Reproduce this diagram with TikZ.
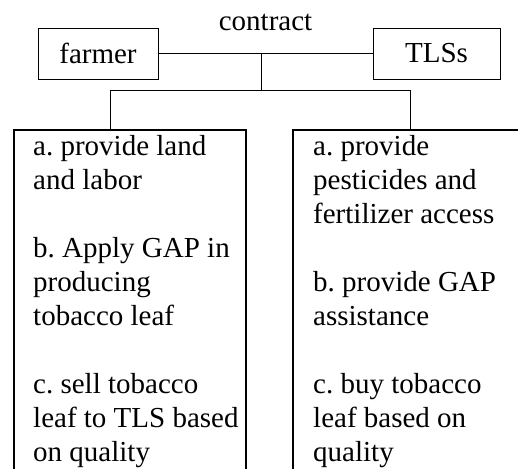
\documentclass[tikz,border=0pt]{standalone}
\usepackage{fontspec}
\setmainfont{Liberation Serif}
\usetikzlibrary{positioning}
\frenchspacing

\begin{document}
\begin{tikzpicture}[x=1pt, y=-1pt,
  party/.style={draw, line width=0.9pt, minimum height=51pt, inner sep=0pt,
    font=\fontsize{29}{34}\selectfont},
  duty/.style={draw, line width=2.4pt, anchor=north west, minimum height=360pt},
  dutytext/.style={align=left, inner sep=0pt, font=\fontsize{29}{34}\selectfont},
  link/.style={line width=0.9pt}
]
\useasboundingbox (0,0) rectangle (518,468);
\clip (0,0) rectangle (518,468);
\node[party, minimum width=120pt] (farmer) at (98,53.5) {farmer};
\node[party, minimum width=127pt] (tls) at (436.5,53.5) {TLSs};
\draw[link] (farmer) -- node[above=22pt, inner sep=0pt, font=\fontsize{29}{34}\selectfont] (contract) {contract} (tls);
\coordinate (mid) at (261,53.5);
\coordinate (fork) at (261,90);
\coordinate (lfork) at (110,90);
\coordinate (rfork) at (410,90);
\node[duty, minimum width=232pt] (lbox) at (13,129) {};
\node[duty, minimum width=250pt] (rbox) at (292,129) {};
\node[dutytext, below right=6pt and 20pt of lbox.north west] (ltext) {a. provide land\\and labor\\[34pt]b. Apply GAP in\\producing\\tobacco leaf\\[34pt]c. sell tobacco\\leaf to TLS based\\on quality};
\node[dutytext, below right=6pt and 21pt of rbox.north west] (rtext) {a. provide\\pesticides and\\fertilizer access\\[34pt]b. provide GAP\\assistance\\[34pt]c. buy tobacco\\leaf based on\\quality};
\draw[link] (mid) -- (fork);
\draw[link] (lfork) -- (rfork);
\draw[link] (lfork) -- (lfork |- lbox.north);
\draw[link] (rfork) -- (rfork |- rbox.north);
\end{tikzpicture}
\end{document}
